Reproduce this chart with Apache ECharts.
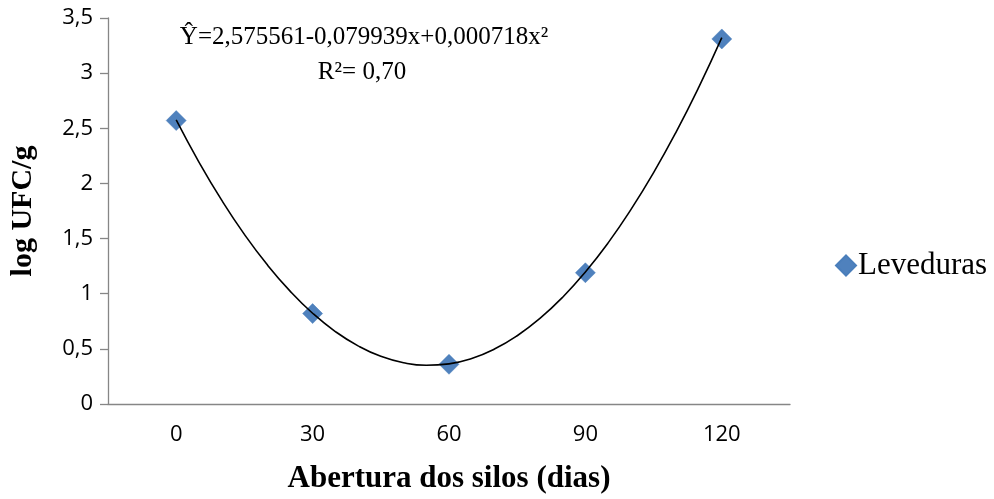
<!DOCTYPE html>
<html>
<head>
<meta charset="utf-8">
<script src="https://cdn.jsdelivr.net/npm/echarts@6/dist/echarts.min.js"></script>
<style>html,body{margin:0;padding:0;background:#fff}#c{width:994px;height:499px}</style>
</head>
<body>
<div id="c"></div>
<script>
// Observed data
var days = [0, 30, 60, 90, 120];
var leveduras = [2.57, 0.82, 0.36, 1.19, 3.31];
// Trend curve (quadratic fit drawn in the chart)
var trendX = [0,5,10,15,20,25,30,35,40,45,50,55,60,65,70,75,80,85,90,95,100,105,110,115,120];
var trendY = [2.576,2.194,1.848,1.538,1.264,1.026,0.823,0.657,0.527,0.432,0.374,0.351,0.364,0.413,0.498,0.619,0.776,0.968,1.197,1.461,1.762,2.098,2.470,2.878,3.322];
var xTicks = [0, 30, 60, 90, 120];
var yTicks = [0, 0.5, 1, 1.5, 2, 2.5, 3, 3.5];
var seriesName = 'Leveduras';
var eqLine1 = 'Ŷ=2,575561-0,079939x+0,000718x²';
var eqLine2 = 'R²= 0,70';

var chart = echarts.init(document.getElementById('c'), null, {renderer: 'canvas'});
var serif = '"Liberation Serif", "Times New Roman", serif';
var sans = '"Open Sans", "Liberation Sans", sans-serif';
chart.setOption({
  animation: false,
  backgroundColor: '#ffffff',
  grid: {left: 108, right: 204, top: 18, bottom: 92, containLabel: false},
  xAxis: {
    type: 'value', min: -15, max: 135, interval: 15,
    axisLine: {show: true, onZero: false, lineStyle: {color: '#868686', width: 1.3}},
    axisTick: {show: false},
    splitLine: {show: false},
    axisLabel: {
      color: '#000', fontFamily: sans, fontSize: 22, margin: 20,
      formatter: function (v) { return xTicks.indexOf(v) >= 0 ? String(v) : ''; }
    },
    name: 'Abertura dos silos (dias)', nameLocation: 'middle', nameGap: 59,
    nameTextStyle: {color: '#000', fontFamily: serif, fontWeight: 'bold', fontSize: 31}
  },
  yAxis: {
    type: 'value', min: 0, max: 3.5, interval: 0.5,
    axisLine: {show: true, onZero: false, lineStyle: {color: '#868686', width: 1.3}},
    axisTick: {show: true, length: 8, lineStyle: {color: '#868686', width: 1.3}},
    splitLine: {show: false},
    axisLabel: {
      color: '#000', fontFamily: sans, fontSize: 22, margin: 15,
      formatter: function (v) { return String(v).replace('.', ','); }
    },
    name: 'log UFC/g', nameLocation: 'middle', nameGap: 70, nameRotate: 90,
    nameTextStyle: {color: '#000', fontFamily: serif, fontWeight: 'bold', fontSize: 30}
  },
  legend: {
    orient: 'vertical', left: 830, top: 245,
    icon: 'diamond', itemWidth: 20, itemHeight: 20, itemGap: 4,
    itemStyle: {opacity: 1},
    textStyle: {color: '#000', fontFamily: serif, fontSize: 31, padding: [0,0,0,-3]},
    data: [seriesName]
  },
  graphic: [
    {type: 'text', x: 364, y: 37, style: {text: eqLine1, font: '25px ' + serif, fill: '#000', align: 'center', verticalAlign: 'middle'}},
    {type: 'text', x: 362, y: 72, style: {text: eqLine2, font: '25px ' + serif, fill: '#000', align: 'center', verticalAlign: 'middle'}}
  ],
  series: [
    {
      name: seriesName, type: 'scatter', symbol: 'diamond', symbolSize: 20,
      itemStyle: {color: '#4F81BD', borderColor: '#4A7EBB', borderWidth: 0.5, opacity: 1},
      data: days.map(function (d, i) { return [d, leveduras[i]]; }),
      z: 2
    },
    {
      name: 'trend', type: 'line', smooth: true, symbol: 'none', silent: true,
      lineStyle: {color: '#000', width: 1.6},
      data: trendX.map(function (x, i) { return [x, trendY[i]]; }),
      z: 3
    }
  ]
});
</script>
</body>
</html>
